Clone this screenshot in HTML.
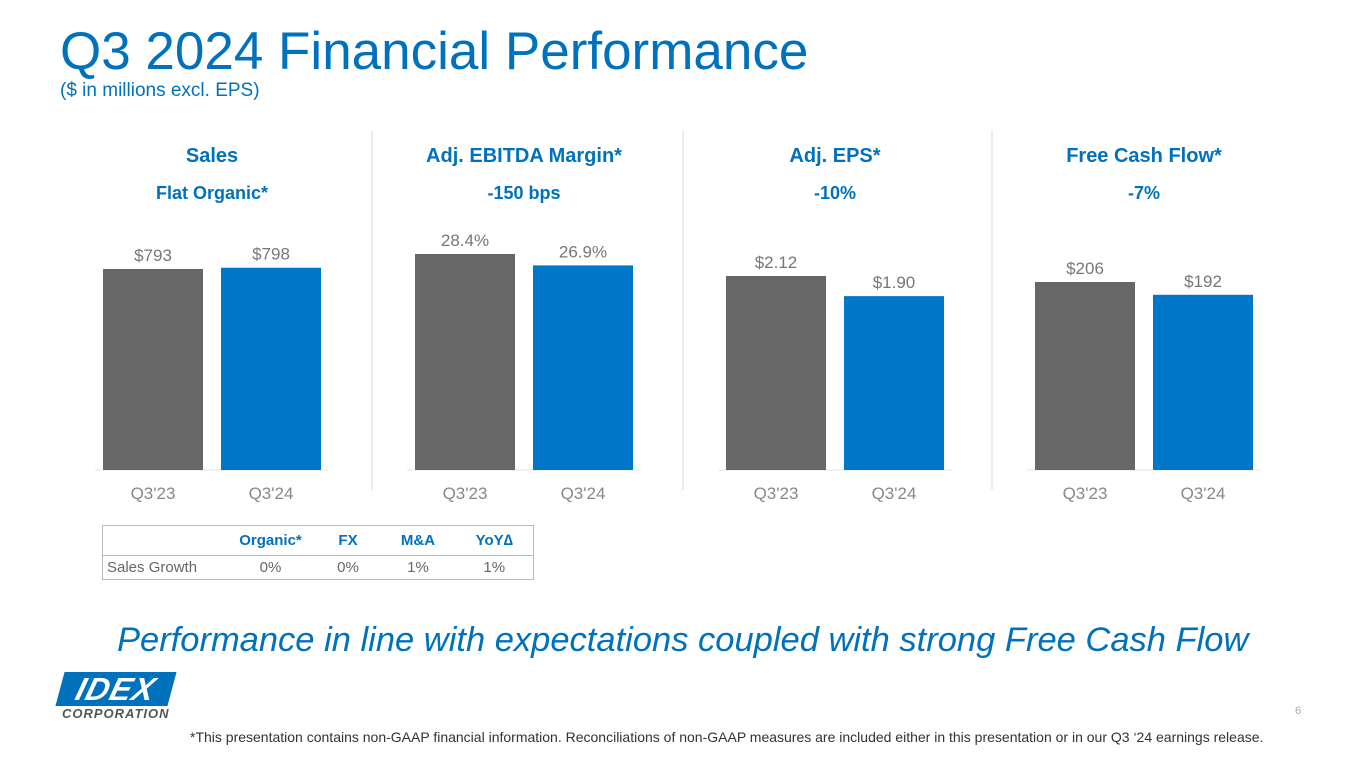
<!DOCTYPE html>
<html><head><meta charset="utf-8"><style>
body{margin:0;width:1365px;height:768px;background:#fff;position:relative;overflow:hidden;font-family:"Liberation Sans",Arial,sans-serif}
.a{position:absolute;white-space:nowrap}
table{border-collapse:collapse;table-layout:fixed}
</style></head><body>
<div class="a" style="left:60px;top:22px;font-size:53px;color:#0071BC;line-height:60px">Q3 2024 Financial Performance</div>
<div class="a" style="left:60px;top:80px;font-size:19px;color:#0071BC">($ in millions excl. EPS)</div>
<svg id="chart" class="a" style="left:0;top:0" width="1365" height="520"></svg>
<table class="a" style="left:102px;top:525px;width:432px;font-size:15px;border:1px solid #bbb">
<colgroup><col style="width:123px"><col style="width:90px"><col style="width:65px"><col style="width:75px"><col style="width:78px"></colgroup>
<tr style="height:30px;color:#0071BC;font-weight:bold;border-bottom:1px solid #bbb"><td></td><td style="text-align:center">Organic*</td><td style="text-align:center">FX</td><td style="text-align:center">M&amp;A</td><td style="text-align:center">YoY∆</td></tr>
<tr style="height:24px;color:#666"><td style="padding-left:4px">Sales Growth</td><td style="text-align:center">0%</td><td style="text-align:center">0%</td><td style="text-align:center">1%</td><td style="text-align:center">1%</td></tr>
</table>
<div class="a" style="left:117px;top:621px;font-size:34.5px;font-style:italic;color:#0071BC">Performance in line with expectations coupled with strong Free Cash Flow</div>
<div class="a" style="left:60px;top:672px;width:112px;height:34px;background:#0071BC;transform:skewX(-15deg);color:#fff;font-weight:bold;font-size:32px;line-height:34px;text-align:center;font-style:italic;letter-spacing:1px">IDEX</div>
<div class="a" style="left:62px;top:706px;font-size:13px;font-weight:bold;font-style:italic;color:#555;letter-spacing:1px">CORPORATION</div>
<div class="a" style="left:1295px;top:705px;font-size:11px;color:#aaa">6</div>
<div class="a" style="left:190px;top:729px;font-size:14px;color:#333">*This presentation contains non-GAAP financial information. Reconciliations of non-GAAP measures are included either in this presentation or in our Q3 ‘24 earnings release.</div>
<script>
const panelTitles=["Sales","Adj. EBITDA Margin*","Adj. EPS*","Free Cash Flow*"];
const panelSubtitles=["Flat Organic*","-150 bps","-10%","-7%"];
const categories=["Q3'23","Q3'24"];
const salesValues=[793,798];
const ebitdaValues=[28.4,26.9];
const epsValues=[2.12,1.90];
const fcfValues=[206,192];
const valueLabels=[["$793","$798"],["28.4%","26.9%"],["$2.12","$1.90"],["$206","$192"]];
const ns="http://www.w3.org/2000/svg",svg=document.getElementById('chart');
function mk(t,a,txt){const e=document.createElementNS(ns,t);for(const k in a)e.setAttribute(k,a[k]);if(txt!=null)e.textContent=txt;svg.appendChild(e);return e;}
const series=[salesValues,ebitdaValues,epsValues,fcfValues];
const maxes=[793/201,28.4/216,2.12/194,206/188];
const lefts=[103,415,726,1035];const base=470;
const cols=["#666766","#0077C8"];
series.forEach((vals,p)=>{
  const x0=lefts[p],cx=x0+109;
  const y=v=>base-v/maxes[p];
  let t=mk('text',{x:cx,y:162,'text-anchor':'middle','font-size':20,'font-weight':'bold',fill:'#0071BC'},panelTitles[p]);
  
  t=mk('text',{x:cx,y:199,'text-anchor':'middle','font-size':18,'font-weight':'bold',fill:'#0071BC'},panelSubtitles[p]);
  
  const l=mk('line',{x1:x0-8,x2:x0+226,y1:base,y2:base,stroke:'#e4e4e4'});
  
  vals.forEach((v,i)=>{
    const bx=x0+i*118;
    const r=mk('rect',{x:bx,y:y(v),width:100,height:base-y(v),fill:cols[i]});
    
    const vl=mk('text',{x:bx+50,y:y(v)-8,'text-anchor':'middle','font-size':17,fill:'#777'},valueLabels[p][i]);
    
    const cl=mk('text',{x:bx+50,y:499,'text-anchor':'middle','font-size':17,fill:'#888'},categories[i]);
    
  });
  if(p>0){const d=mk('line',{x1:x0-43,x2:x0-43,y1:131,y2:490,stroke:'#d8d8d8'});
    }
});
</script>
</body></html>
